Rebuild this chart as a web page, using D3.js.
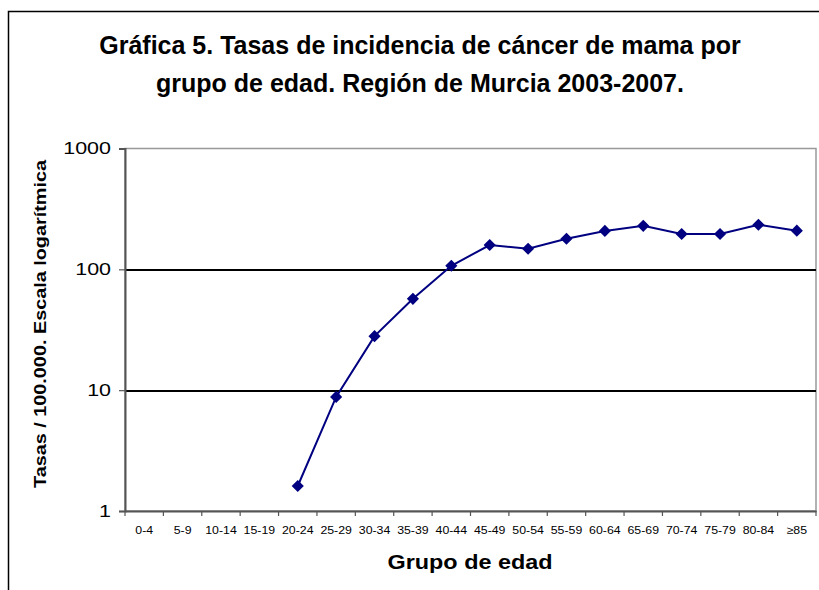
<!DOCTYPE html>
<html>
<head>
  <meta charset="utf-8">
  <title>Gráfica 5</title>
  <script src="https://cdnjs.cloudflare.com/ajax/libs/d3/7.8.5/d3.min.js"></script>
  <style>
    body {
        margin: 0;
        background: #ffffff;
        font-family: "Liberation Sans", Arial, sans-serif;
    }
    svg { display: block; }
  </style>
</head>
<body>
  <div id="chart"></div>
  <script>
    // Data
    var age_groups = ['0-4', '5-9', '10-14', '15-19', '20-24', '25-29', '30-34', '35-39',
                      '40-44', '45-49', '50-54', '55-59', '60-64', '65-69', '70-74',
                      '75-79', '80-84', '≥85'];
    // null = no value drawn for that group
    var rates = [null, null, null, null, 1.61, 8.8, 28, 57, 107, 159, 148, 179,
                 208, 229, 196, 196, 234, 209];
    var y_ticks = [1, 10, 100, 1000];
    var title_lines = ['Gráfica 5. Tasas de incidencia de cáncer de mama por',
                       'grupo de edad. Región de Murcia 2003-2007.'];

    // The original (an Excel chart) is stretched a bit horizontally;
    // widen a text element by a factor using textLength
    function stretch(sel, factor) {
        sel.each(function() {
            var len = this.getComputedTextLength();
            d3.select(this)
                .attr('textLength', len * factor)
                .attr('lengthAdjust', 'spacingAndGlyphs');
        });
    }

    //----------------------------------------
    // SVG setup
    var width = 819,
        height = 590;
    var margin = {top: 148.5, right: 3, bottom: 79, left: 125};
    var plot_w = width - margin.left - margin.right,
        plot_h = height - margin.top - margin.bottom;

    var svg = d3.select('#chart').append('svg')
        .attr('width', width)
        .attr('height', height);

    // Outer frame (runs off the right/bottom edges like the original)
    svg.append('rect')
        .attr('x', 8.5).attr('y', 11.5)
        .attr('width', width + 10).attr('height', height + 10)
        .attr('fill', 'none')
        .attr('stroke', '#000')
        .attr('stroke-width', 1.5);

    // Title
    svg.append('g')
        .selectAll('text')
        .data(title_lines)
        .enter()
        .append('text')
        .attr('x', 420)
        .attr('y', function(d, i) { return 54 + i * 38; })
        .attr('text-anchor', 'middle')
        .style('font-size', '25px')
        .style('font-weight', 'bold')
        .text(function(d) { return d; });

    var g = svg.append('g')
        .attr('transform', 'translate(' + margin.left + ',' + margin.top + ')');

    //----------------------------------------
    // Scales
    var x_scale = d3.scaleBand()
        .domain(age_groups)
        .range([0, plot_w]);

    var y_scale = d3.scaleLog()
        .domain([1, 1000])
        .range([plot_h, 0]);

    // Plot area border (top + right in grey)
    g.append('rect')
        .attr('x', 0).attr('y', 0)
        .attr('width', plot_w).attr('height', plot_h)
        .attr('fill', 'none')
        .attr('stroke', '#999')
        .attr('stroke-width', 1.5);

    // Gridlines at 10 and 100
    g.selectAll('.grid')
        .data(y_ticks.filter(function(d) { return d > 1 && d < 1000; }))
        .enter()
        .append('line')
        .attr('class', 'grid')
        .attr('x1', 0).attr('x2', plot_w)
        .attr('y1', function(d) { return Math.round(y_scale(d)) + 0.5; })
        .attr('y2', function(d) { return Math.round(y_scale(d)) + 0.5; })
        .attr('stroke', '#000')
        .attr('stroke-width', 1.3)
        .attr('shape-rendering', 'crispEdges');

    // Y axis
    var y_axis = g.append('g')
        .call(d3.axisLeft(y_scale)
            .tickValues(y_ticks)
            .tickFormat(d3.format('d'))
            .tickSize(6)
            .tickPadding(8));
    y_axis.select('.domain').attr('stroke', '#555').attr('stroke-width', 2);
    y_axis.selectAll('.tick line').attr('stroke', '#555').attr('stroke-width', 1.2);
    y_axis.selectAll('.tick text')
        .style('font-family', '"Liberation Sans", Arial, sans-serif')
        .style('font-size', '16.5px')
        .style('font-weight', 'normal')
        .attr('fill', '#000')
        .call(stretch, 1.3);

    // X axis: ticks sit between categories
    var x_axis = g.append('g')
        .attr('transform', 'translate(0,' + plot_h + ')')
        .call(d3.axisBottom(x_scale).tickSize(0).tickPadding(15));
    x_axis.select('.domain').attr('stroke', '#555').attr('stroke-width', 2);
    x_axis.selectAll('.tick text')
        .style('font-family', '"Liberation Sans", Arial, sans-serif')
        .style('font-size', '11px')
        .attr('fill', '#000')
        .call(stretch, 1.12);

    x_axis.selectAll('.sep')
        .data(age_groups.concat(['end']))
        .enter()
        .append('line')
        .attr('class', 'sep')
        .attr('x1', function(d, i) { return i * x_scale.step(); })
        .attr('x2', function(d, i) { return i * x_scale.step(); })
        .attr('y1', 0).attr('y2', 5)
        .attr('stroke', '#555')
        .attr('stroke-width', 1.2);

    //----------------------------------------
    // Series
    var points = age_groups.map(function(a, i) {
        return {group: a, value: rates[i]};
    }).filter(function(d) { return d.value !== null; });

    var line_gen = d3.line()
        .x(function(d) { return x_scale(d.group) + x_scale.bandwidth() / 2; })
        .y(function(d) { return y_scale(d.value); });

    g.append('path')
        .datum(points)
        .attr('d', line_gen)
        .attr('fill', 'none')
        .attr('stroke', '#000080')
        .attr('stroke-width', 2);

    g.selectAll('.marker')
        .data(points)
        .enter()
        .append('path')
        .attr('class', 'marker')
        .attr('d', d3.symbol().type(d3.symbolDiamond2).size(64))
        .attr('transform', function(d) {
            return 'translate(' + (x_scale(d.group) + x_scale.bandwidth() / 2) + ',' +
                   y_scale(d.value) + ')';
        })
        .attr('fill', '#000080')
        .attr('stroke', '#000080')
        .attr('stroke-width', 1.5)
        .attr('stroke-linejoin', 'miter');

    //----------------------------------------
    // Axis titles
    svg.append('text')
        .attr('transform', 'translate(46,324) rotate(-90)')
        .attr('text-anchor', 'middle')
        .style('font-size', '17px')
        .style('font-weight', 'bold')
        .text('Tasas / 100.000. Escala logarítmica')
        .attr('textLength', 328)
        .attr('lengthAdjust', 'spacingAndGlyphs');

    svg.append('text')
        .attr('x', 470)
        .attr('y', 569)
        .attr('text-anchor', 'middle')
        .style('font-size', '20px')
        .style('font-weight', 'bold')
        .text('Grupo de edad')
        .attr('textLength', 165)
        .attr('lengthAdjust', 'spacingAndGlyphs');
  </script>
</body>
</html>
